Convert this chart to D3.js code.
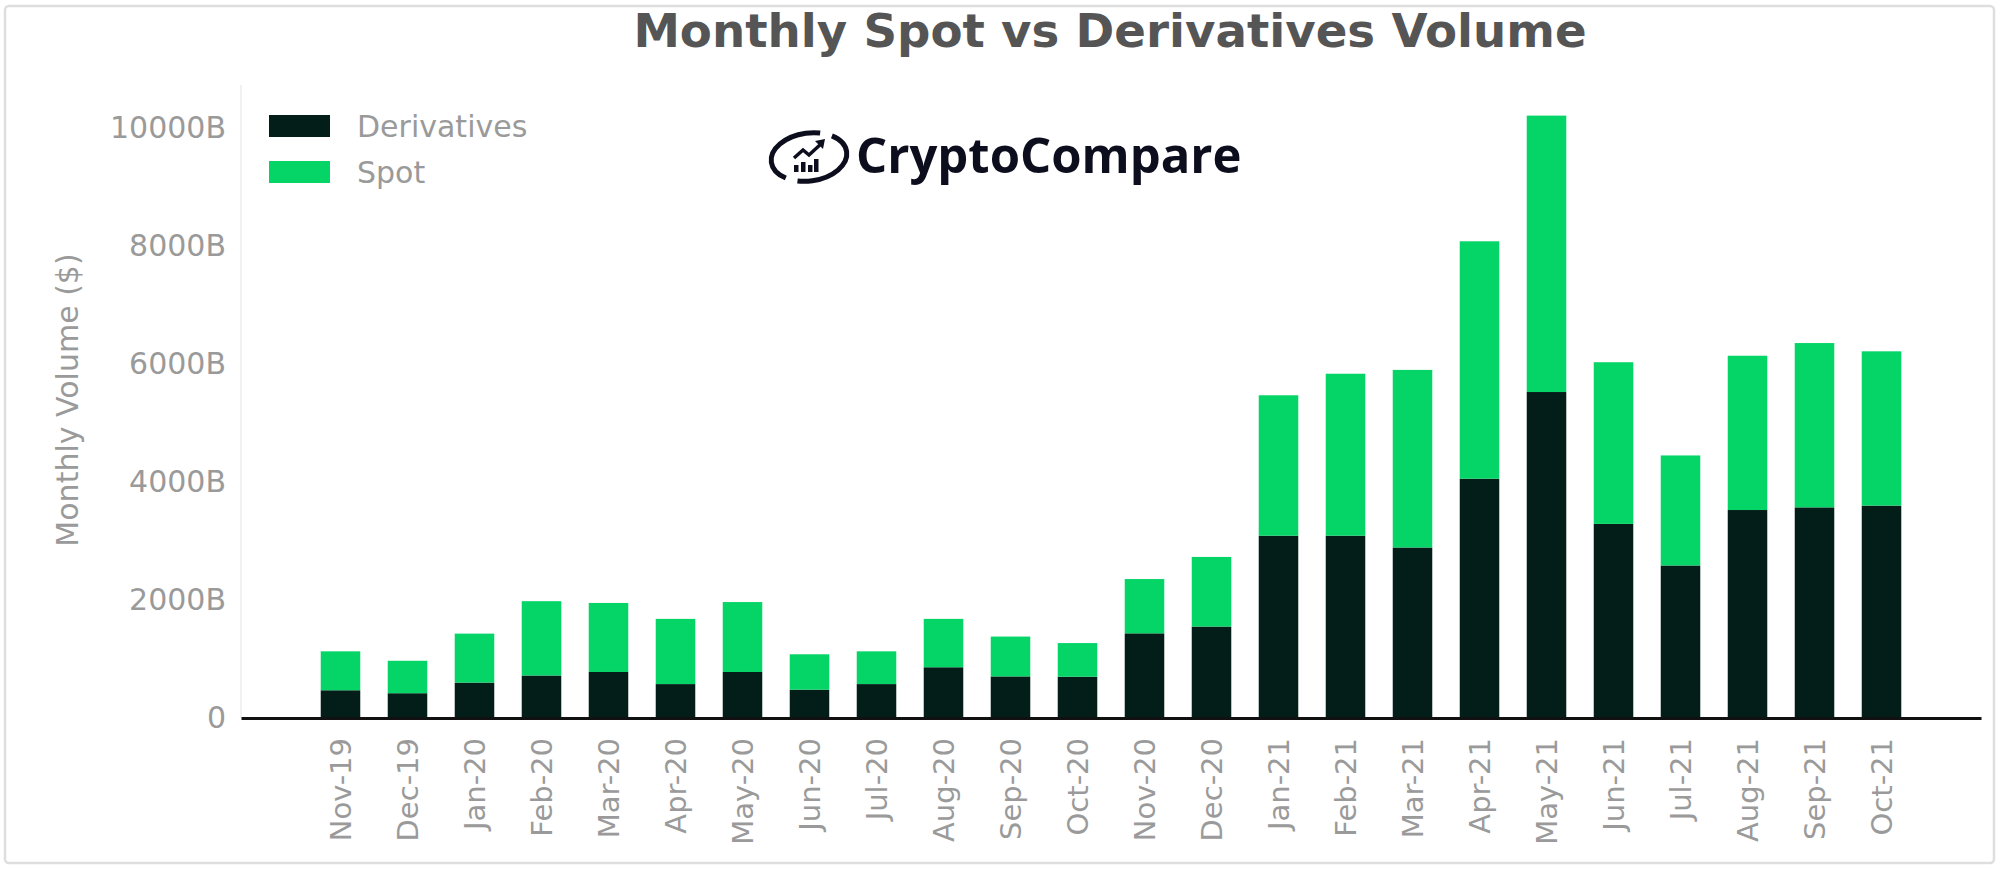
<!DOCTYPE html>
<html>
<head>
<meta charset="utf-8">
<script src="https://cdn.jsdelivr.net/npm/d3@7"></script>
<style>
  body { margin: 0; background: #fff; }
  text { font-family: "DejaVu Sans", sans-serif; }
</style>
</head>
<body>
<div class="chart-container"></div>
<script>
// data (billions of USD)
const months = ["Nov-19", "Dec-19", "Jan-20", "Feb-20", "Mar-20", "Apr-20", "May-20", "Jun-20",
  "Jul-20", "Aug-20", "Sep-20", "Oct-20", "Nov-20", "Dec-20", "Jan-21", "Feb-21",
  "Mar-21", "Apr-21", "May-21", "Jun-21", "Jul-21", "Aug-21", "Sep-21", "Oct-21"];
const derivatives = [470, 420, 600, 720, 780, 575, 780, 480, 575, 860, 705, 700,
  1435, 1550, 3090, 3090, 2890, 4055, 5525, 3290, 2585, 3525, 3570, 3600];
const spot = [660, 550, 830, 1260, 1170, 1105, 1185, 600, 555, 820, 675, 570,
  920, 1180, 2380, 2745, 3010, 4025, 4685, 2740, 1865, 2615, 2785, 2615];
const seriesNames = ["Derivatives", "Spot"];
const yTicks = [0, 2000, 4000, 6000, 8000, 10000];

const width = 2000;
const height = 870;

const svg = d3.select(".chart-container")
    .append("svg")
    .attr("width", width)
    .attr("height", height);

// frame around the picture
svg.append("rect")
    .attr("x", 5).attr("y", 6)
    .attr("width", 1989).attr("height", 857)
    .attr("rx", 4)
    .attr("fill", "#fff")
    .attr("stroke", "#dedede")
    .attr("stroke-width", 2.5);

const rows = months.map((m, i) => ({month: m, Derivatives: derivatives[i], Spot: spot[i]}));
const series = d3.stack().keys(seriesNames)(rows);

const x = d3.scaleBand()
    .domain(months)
    .range([241, 1981])
    .paddingInner(0.41)
    .paddingOuter(1.19);

const y = d3.scaleLinear()
    .domain([0, 10000])
    .range([718, 128]);

const z = d3.scaleOrdinal()
    .domain(seriesNames)
    .range(["#031e18", "#05d466"]);

// faint left spine
svg.append("line")
    .attr("x1", 241).attr("x2", 241)
    .attr("y1", 85).attr("y2", y(0))
    .attr("stroke", "#f1f1f1")
    .attr("stroke-width", 2);

// bars
svg.append("g")
    .selectAll("g")
    .data(series)
    .join("g")
    .attr("fill", d => z(d.key))
    .selectAll("rect")
    .data(d => d)
    .join("rect")
    .attr("x", d => x(d.data.month))
    .attr("y", d => y(d[1]))
    .attr("width", x.bandwidth())
    .attr("height", d => y(d[0]) - y(d[1]));

// x axis
svg.append("g")
    .attr("transform", `translate(0,${y(0)})`)
    .call(d3.axisBottom(x).tickSize(0).tickSizeOuter(0))
    .call(g => g.select(".domain").attr("stroke", "#111").attr("stroke-width", 3))
    .call(g => g.selectAll("text")
        .attr("font-size", 29)
        .attr("fill", "#9a9a9a")
        .attr("transform", "rotate(-90)")
        .attr("x", -20)
        .attr("y", 0)
        .attr("dy", "0.35em")
        .attr("text-anchor", "end"));

// y axis
svg.append("g")
    .attr("transform", "translate(241,0)")
    .call(d3.axisLeft(y).tickValues(yTicks).tickSize(0).tickPadding(15)
        .tickFormat(d => d === 0 ? "0" : d + "B"))
    .call(g => g.select(".domain").remove())
    .call(g => g.selectAll("text")
        .attr("font-size", 30)
        .attr("fill", "#9a9a9a"));

// y label
svg.append("text")
    .attr("transform", "translate(67,400) rotate(-90)")
    .attr("text-anchor", "middle")
    .attr("dy", "0.35em")
    .attr("font-size", 30)
    .attr("fill", "#9a9a9a")
    .text("Monthly Volume ($)");

// title
svg.append("text")
    .attr("x", 1110)
    .attr("y", 47)
    .attr("text-anchor", "middle")
    .attr("font-size", 46.7)
    .attr("font-weight", "bold")
    .attr("fill", "#555")
    .text("Monthly Spot vs Derivatives Volume");

// legend
const legend = svg.append("g")
    .selectAll("g")
    .data(seriesNames)
    .join("g")
    .attr("transform", (d, i) => `translate(269,${115 + i * 46})`);
legend.append("rect")
    .attr("width", 61)
    .attr("height", 22)
    .attr("fill", z);
legend.append("text")
    .attr("x", 88)
    .attr("y", 11)
    .attr("dy", "0.35em")
    .attr("font-size", 30)
    .attr("fill", "#9a9a9a")
    .text(d => d);

// CryptoCompare logo
const logo = svg.append("g").attr("fill", "#0c0e1d");
logo.append("ellipse")
    .attr("cx", 809).attr("cy", 157)
    .attr("rx", 38).attr("ry", 24)
    .attr("transform", "rotate(-8,809,157)")
    .attr("fill", "none")
    .attr("stroke", "#0c0e1d")
    .attr("stroke-width", 5)
    .attr("stroke-dasharray", "86 12 86 12")
    .attr("stroke-dashoffset", 120);
logo.selectAll(".ib")
    .data([[794, 7], [801, 10], [808, 7], [814, 13]])
    .join("rect")
    .attr("x", d => d[0])
    .attr("y", d => 172 - d[1])
    .attr("width", 4.5)
    .attr("height", d => d[1]);
logo.append("path")
    .attr("d", "M794,158 L803,150 L809,155 L822,143")
    .attr("fill", "none")
    .attr("stroke", "#0c0e1d")
    .attr("stroke-width", 3.5);
logo.append("path")
    .attr("d", "M815,141 L825,139 L823,149 Z");
logo.append("text")
    .attr("x", 856)
    .attr("y", 173)
    .style("font-family", "'Open Sans', sans-serif")
    .style("font-weight", 700)
    .attr("font-size", 49)
    .text("CryptoCompare");
</script>
</body>
</html>
